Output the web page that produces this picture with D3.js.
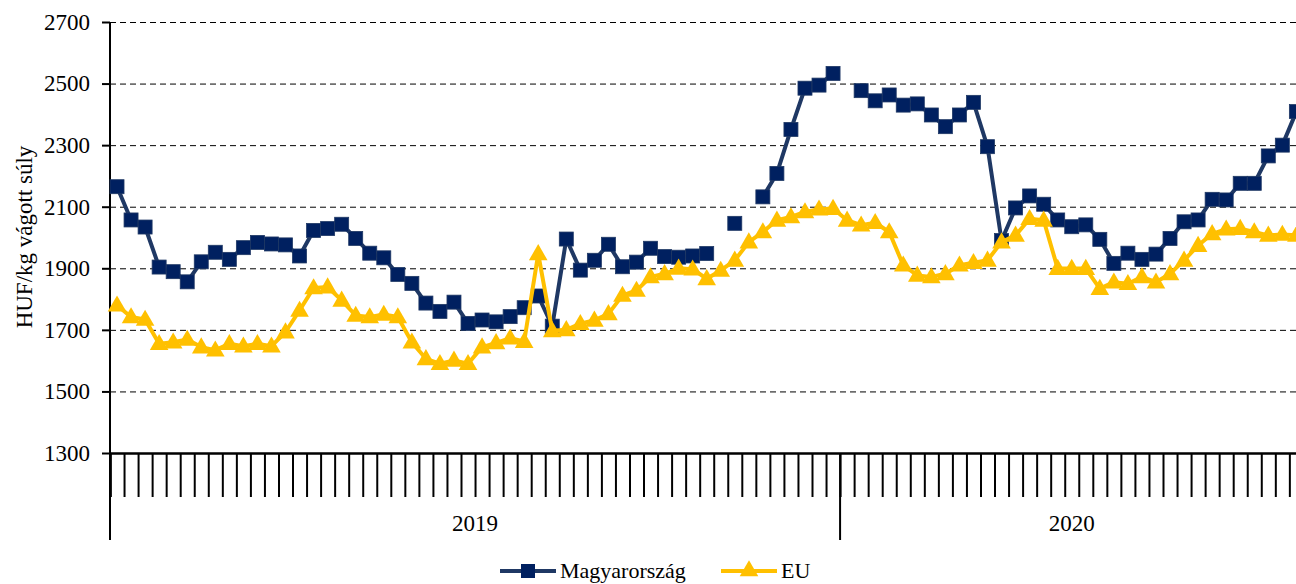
<!DOCTYPE html>
<html>
<head>
<meta charset="utf-8">
<script src="https://cdn.jsdelivr.net/npm/d3@7"></script>
<style>
  html, body { margin: 0; padding: 0; background: #fff; }
  svg { display: block; }
  text { font-family: "Liberation Serif", "Times New Roman", serif; fill: #000; }
</style>
</head>
<body>
<svg id="chart" width="1296" height="584"></svg>
<script>
// ---- data ----
const years = ["2019", "2020"];
const weeksPerYear = [52, 33];
const seriesNames = ["Magyarország", "EU"];
const yTicks = [1300, 1500, 1700, 1900, 2100, 2300, 2500, 2700];
const yTitle = "HUF/kg vágott súly";

const huValues = [
  2165, 2057, 2034, 1904, 1889, 1856, 1921, 1952, 1929, 1967,
  1984, 1979, 1976, 1940, 2023, 2029, 2043, 1997, 1949, 1934,
  1880, 1851, 1787, 1760, 1790, 1721, 1732, 1726, 1743, 1772,
  1810, 1712, 1995, 1894, 1926, 1978, 1905, 1920, 1965, 1938,
  1936, 1940, 1948, null, 2046, null, 2132, 2208, 2351, 2485,
  2495, 2533, null, 2477, 2444, 2463, 2430, 2434, 2398, 2360,
  2398, 2439, 2295, 1990, 2096, 2135, 2108, 2057, 2035, 2041,
  1994, 1916, 1949, 1929, 1946, 1997, 2051, 2057, 2124, 2122,
  2176, 2176, 2265, 2300, 2409
];
const euValues = [
  1780, 1742, 1734, 1655, 1660, 1669, 1644, 1634, 1655, 1647,
  1655, 1647, 1693, 1763, 1836, 1839, 1796, 1747, 1742, 1750,
  1742, 1660, 1606, 1590, 1601, 1590, 1644, 1658, 1673, 1662,
  1947, 1697, 1700, 1720, 1731, 1752, 1812, 1828, 1872, 1882,
  1900, 1897, 1866, 1893, 1926, 1985, 2018, 2056, 2067, 2083,
  2092, 2094, 2056, 2040, 2048, 2018, 1910, 1877, 1872, 1882,
  1910, 1918, 1926, 1985, 2007, 2061, 2056, 1899, 1899, 1899,
  1834, 1855, 1850, 1872, 1855, 1882, 1926, 1974, 2012, 2027,
  2029, 2018, 2007, 2010, 2007
];

(function () {
  const svg = d3.select("#chart");
  const mLeft = 110, mTop = 22, mBottom = 453;
  const nWeeks = d3.sum(weeksPerYear);
  const x = d3.scaleLinear().domain([0, nWeeks]).range([mLeft, mLeft + 14.04 * nWeeks]);
  const y = d3.scaleLinear().domain([1300, 2700]).range([mBottom, mTop]);
  const cx = i => x(i + 0.5);

  const huColor = "#1F3864", huMarker = "#002060";
  const euColor = "#FFC000";

  // gridlines
  svg.append("g")
    .attr("transform", `translate(${mLeft},0)`)
    .call(d3.axisLeft(y).tickValues(yTicks.slice(1)).tickSize(-(1296 - mLeft)).tickFormat(""))
    .call(g => g.select(".domain").remove())
    .call(g => g.selectAll("line").attr("stroke", "#000").attr("stroke-width", 1).attr("stroke-dasharray", "6,4"));

  // y axis
  svg.append("g")
    .attr("transform", `translate(${mLeft},0)`)
    .call(d3.axisLeft(y).tickValues(yTicks).tickSize(8).tickPadding(12).tickFormat(d3.format("d")))
    .call(g => g.select(".domain").remove())
    .call(g => g.selectAll("line").attr("stroke", "#000").attr("stroke-width", 2))
    .call(g => g.selectAll("text").attr("font-size", 23).attr("font-family", "Liberation Serif, Times New Roman, serif").attr("fill", "#000"));

  svg.append("line").attr("x1", mLeft).attr("x2", mLeft).attr("y1", mTop).attr("y2", 540)
    .attr("stroke", "#000").attr("stroke-width", 2);

  // x axis week ticks
  svg.append("g")
    .attr("transform", `translate(0,${mBottom})`)
    .call(d3.axisBottom(x).tickValues(d3.range(0, nWeeks + 1)).tickSize(44).tickFormat(""))
    .call(g => g.select(".domain").attr("stroke", "#000").attr("stroke-width", 2.5))
    .call(g => g.selectAll(".tick line").attr("stroke", "#000").attr("stroke-width", 2));

  // year separators and labels
  const yearStarts = weeksPerYear.map((w, i) => d3.sum(weeksPerYear.slice(0, i)));
  svg.selectAll("line.year").data(yearStarts).join("line")
    .attr("class", "year")
    .attr("x1", d => x(d)).attr("x2", d => x(d))
    .attr("y1", mBottom).attr("y2", 540)
    .attr("stroke", "#000").attr("stroke-width", 2);
  svg.selectAll("text.year").data(years).join("text")
    .attr("class", "year")
    .attr("x", (d, i) => x(yearStarts[i] + weeksPerYear[i] / 2))
    .attr("y", 531)
    .attr("text-anchor", "middle")
    .attr("font-size", 23)
    .text(d => d);

  // y title
  svg.append("text")
    .attr("transform", "translate(32,237) rotate(-90)")
    .attr("text-anchor", "middle")
    .attr("font-size", 23)
    .text(yTitle);

  const huData = huValues.map((v, i) => ({ i, v }));
  const euData = euValues.map((v, i) => ({ i, v }));
  const line = d3.line().defined(d => d.v != null).x(d => cx(d.i)).y(d => y(d.v));

  const sq = 14;
  const triSym = d3.symbol().type(d3.symbolTriangle).size(150);

  // HU
  svg.append("path").datum(huData).attr("d", line)
    .attr("fill", "none").attr("stroke", huColor).attr("stroke-width", 4).attr("stroke-linejoin", "round");
  svg.selectAll("rect.hu").data(huData.filter(d => d.v != null)).join("rect")
    .attr("class", "hu")
    .attr("x", d => cx(d.i) - sq / 2).attr("y", d => y(d.v) - sq / 2)
    .attr("width", sq).attr("height", sq)
    .attr("fill", huMarker).attr("stroke", huColor).attr("stroke-width", 0.8);

  // EU
  svg.append("path").datum(euData).attr("d", line)
    .attr("fill", "none").attr("stroke", euColor).attr("stroke-width", 4).attr("stroke-linejoin", "round");
  svg.selectAll("path.eu").data(euData.filter(d => d.v != null)).join("path")
    .attr("class", "eu")
    .attr("d", triSym)
    .attr("transform", d => `translate(${cx(d.i)},${y(d.v) + 1})`)
    .attr("fill", euColor);

  // legend
  const legY = 571;
  const leg = svg.append("g");
  leg.append("line").attr("x1", 500).attr("x2", 556).attr("y1", legY).attr("y2", legY)
    .attr("stroke", huColor).attr("stroke-width", 4);
  leg.append("rect").attr("x", 528 - sq / 2).attr("y", legY - sq / 2).attr("width", sq).attr("height", sq)
    .attr("fill", huMarker);
  leg.append("text").attr("x", 560).attr("y", legY + 7).attr("font-size", 22).text(seriesNames[0]);
  leg.append("line").attr("x1", 721).attr("x2", 777).attr("y1", legY).attr("y2", legY)
    .attr("stroke", euColor).attr("stroke-width", 4);
  leg.append("path").attr("d", triSym).attr("transform", `translate(749,${legY})`).attr("fill", euColor);
  leg.append("text").attr("x", 781).attr("y", legY + 7).attr("font-size", 22).text(seriesNames[1]);
})();
</script>
</body>
</html>
